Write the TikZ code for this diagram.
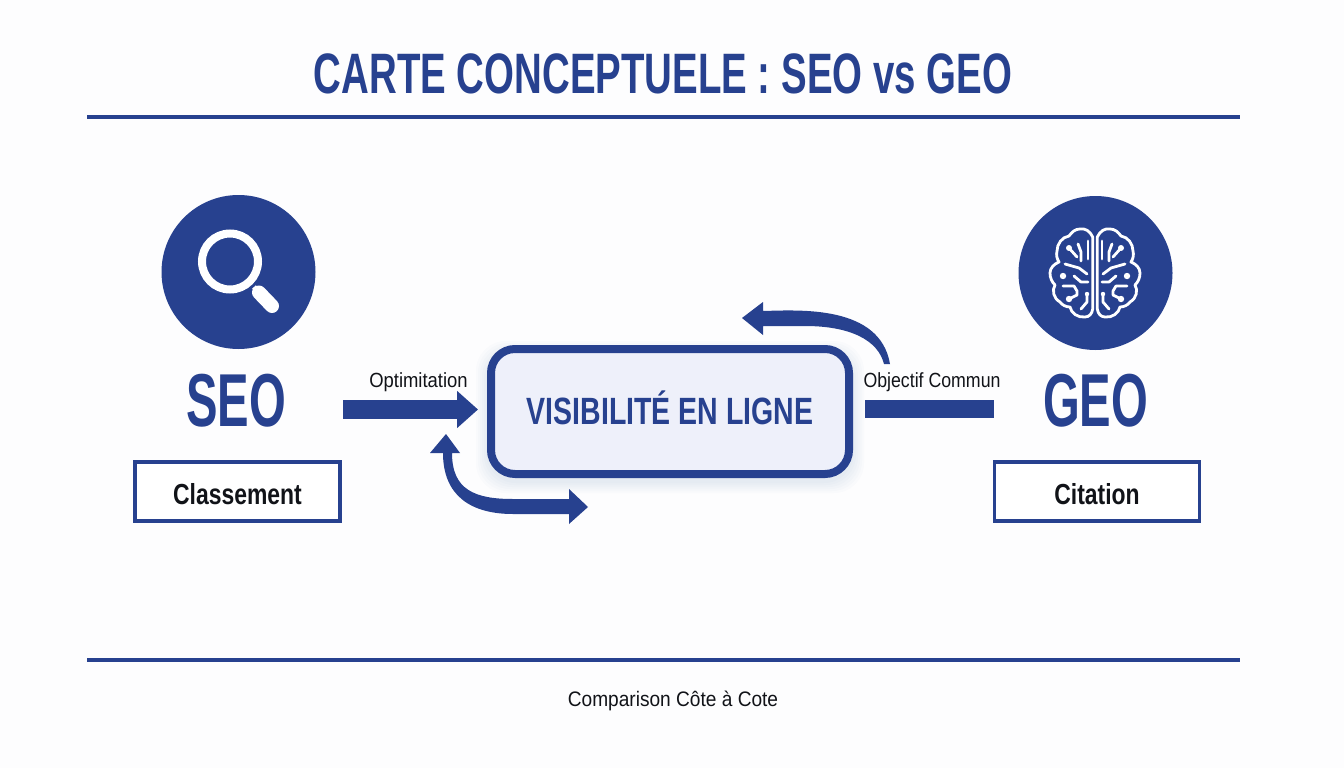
\documentclass[tikz,border=0pt]{standalone}
\usepackage{fontspec}
\setmainfont{Liberation Sans}
\newfontfamily\fTitle{Liberation Sans}[FakeStretch=0.674]
\newfontfamily\fBig{Liberation Sans}[FakeStretch=0.63]
\newfontfamily\fVis{Liberation Sans}[FakeStretch=0.75]
\newfontfamily\fBox{Liberation Sans}[FakeStretch=0.79]
\newfontfamily\fLab{Liberation Sans}[FakeStretch=0.9]
\newfontfamily\fObj{Liberation Sans}[FakeStretch=0.865]
\newfontfamily\fFoot{Liberation Sans}[FakeStretch=0.91]
\usetikzlibrary{arrows.meta}
\definecolor{navy}{HTML}{27418F}
\definecolor{paper}{HTML}{FDFDFE}
\definecolor{panel}{HTML}{EEF0FA}
\definecolor{ink}{HTML}{111318}
\tikzset{
  x=1pt,y=-1pt,
  rulebar/.style={draw=navy,line width=4pt},
  iconcircle/.style={circle,fill=navy,minimum size=154pt,inner sep=0pt},
  bigtxt/.style={anchor=base,text=navy,inner sep=0pt,font={\fBig\bfseries\fontsize{75}{75}\selectfont}},
  tagbox/.style={draw=navy,line width=3.5pt,fill=white,minimum width=205pt,minimum height=59pt,inner sep=0pt,text=ink,
    text height=26pt,text depth=0pt,font={\fBox\bfseries\fontsize{29}{29}\selectfont}},
  smalltxt/.style={anchor=base,text=ink,inner sep=0pt,font={\fLab\fontsize{20.5}{20.5}\selectfont}},
  barline/.style={draw=navy,line width=19pt},
  wire/.style={draw=white,line width=2.8pt,line cap=round,line join=round},
}
\begin{document}
\begin{tikzpicture}
\useasboundingbox (0,0) rectangle (1344,768);
\fill[paper] (0,0) rectangle (1344,768);

% title and rules
\node[anchor=base,text=navy,inner sep=0pt,font={\fTitle\bfseries\fontsize{57}{57}\selectfont}] (title) at (663,93) {CARTE CONCEPTUELE : SEO vs GEO};
\coordinate (r1a) at (87,117); \coordinate (r1b) at (1240,117);
\draw[rulebar] (r1a) -- (r1b);
\coordinate (r2a) at (87,660); \coordinate (r2b) at (1240,660);
\draw[rulebar] (r2a) -- (r2b);
\node[smalltxt,font={\fFoot\fontsize{21}{21}\selectfont}] (foot) at (673,706) {Comparison Côte à Cote};

% soft shadow
\foreach \g in {1,3,5,7,9,11}
  \fill[navy,opacity=0.014,rounded corners=30pt] (487-\g,352-\g) rectangle (853+\g,482+\g);

% central box
\node[draw=navy,line width=8pt,fill=panel,rounded corners=24pt,minimum width=358pt,minimum height=125pt,inner sep=0pt,
  text=navy,text height=25pt,text depth=0pt,font={\fVis\bfseries\fontsize{38}{38}\selectfont},outer sep=0pt] (vis) at (670,411.5) {VISIBILITÉ EN LIGNE};

% left column
\node[iconcircle] (seoicon) at (238.5,272) {};
\node[bigtxt] (seo) at (236,426) {SEO};
\node[tagbox] (classement) at (237.5,491.5) {Classement};
% magnifier
\coordinate (lens) at (230,261.5);
\coordinate (handleA) at (254,287);
\coordinate (handleB) at (259,292.5);
\coordinate (handleC) at (272,306);
\draw[draw=white,line width=8pt] (lens) circle[radius=28];
\draw[draw=white,line width=5pt] (handleA) -- (handleB);
\draw[draw=white,line width=14pt,line cap=round] (handleB) -- (handleC);

% right column
\node[iconcircle] (geoicon) at (1095.5,273) {};
\node[bigtxt] (geo) at (1095.5,426) {GEO};
\node[tagbox] (citation) at (1097,491.5) {Citation};
% brain
\coordinate (brain) at (1095,274);
\foreach \s in {1,-1}{
\begin{scope}[shift={(brain)},xscale=\s]
  \draw[wire] (-2.3,35) -- (-2.3,-37)
     .. controls (-5,-43) and (-10,-46) .. (-15,-45)
     .. controls (-20,-45) and (-23,-42) .. (-26,-38)
     .. controls (-33,-37) and (-38,-30) .. (-38,-23)
     .. controls (-39,-19) and (-38,-15) .. (-36,-12)
     .. controls (-41,-10) and (-45,-6) .. (-45,-1)
     .. controls (-45,4) and (-43,8) .. (-40,11)
     .. controls (-43,16) and (-42,24) .. (-35,28)
     .. controls (-33,31) and (-29,33) .. (-25,33)
     .. controls (-24,39) and (-17,44) .. (-10,43)
     .. controls (-6,43) and (-3,40) .. (-2.3,35);
  \draw[wire] (-7,-33) -- (-7,-15);
  \draw[wire] (-17,-30) -- (-14,-22) -- (-14,-13);
  \fill[white] (-26,-26) circle[radius=3];
  \draw[wire] (-26,-26) -- (-18,-17);
  \draw[wire] (-30,-10) -- (-16,-6) -- (-8,0);
  \fill[white] (-32,2) circle[radius=3.2];
  \draw[wire] (-21,2) -- (-14,8) -- (-7,8);
  \draw[wire] (-32,12) -- (-21,12) -- (-18,17) -- (-18,21) -- (-26,25);
  \fill[white] (-26,25) circle[radius=3.2];
  \draw[wire] (-8,20) -- (-8,28) -- (-14,35);
  \fill[white] (-8,20) circle[radius=2.2];
\end{scope}}

% labels
\node[smalltxt] (optlab) at (418.5,387) {Optimitation};
\node[smalltxt,font={\fObj\fontsize{20.5}{20.5}\selectfont}] (objlab) at (932,387) {Objectif Commun};

% straight connectors
\coordinate (optstart) at (343,409.5);
\draw[barline,-{Triangle[length=21pt,width=36pt]},shorten >=13pt] (optstart) -- (vis.west |- optstart);
\coordinate (objend) at (994,409);
\draw[barline,line width=18pt,shorten <=16pt] (vis.east |- objend) -- (objend);

% curved arrow, top
\coordinate (topTip) at (742,318);
\coordinate (topTailA) at (890,364);
\coordinate (topTailB) at (884,364);
\fill[navy] (topTip) -- (763,302) -- (763,311)
   .. controls (800,310) and (880,305) .. (topTailA)
   -- (topTailB)
   .. controls (878,340) and (850,326) .. (805,326)
   -- (763,326) -- (763,335) -- cycle;

% curved arrow, bottom
\coordinate (botTip) at (588,507);
\coordinate (upTip) at (446,434);
\fill[navy] (botTip) -- (569,489) -- (569,499)
   -- (513,499)
   .. controls (475,499) and (452,490) .. (452,453)
   -- (460,453) -- (upTip) -- (430,453) -- (443,453)
   .. controls (443,495) and (470,514) .. (513,514)
   -- (569,514) -- (569,524) -- cycle;
\end{tikzpicture}
\end{document}
